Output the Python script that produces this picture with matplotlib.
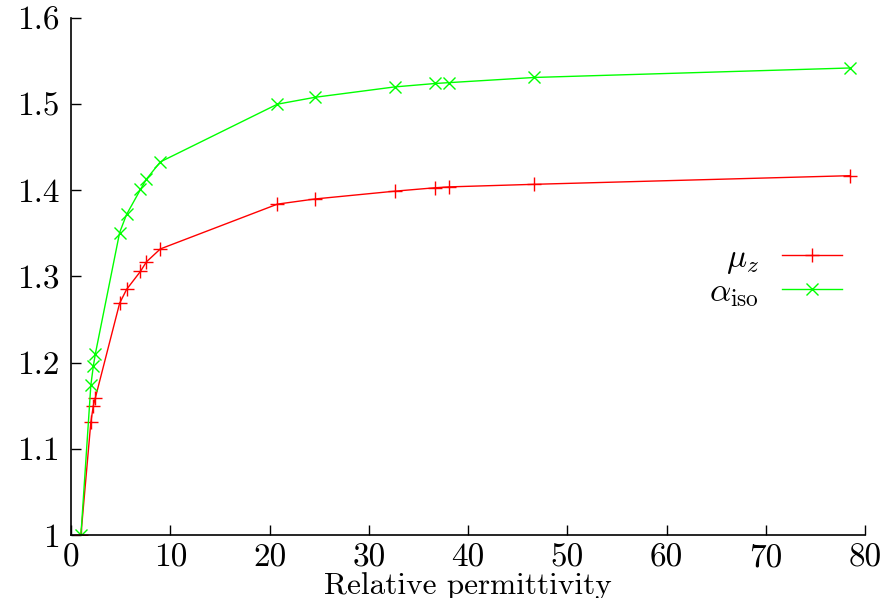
import matplotlib
matplotlib.use("Agg")
import matplotlib.pyplot as plt
from matplotlib.ticker import FuncFormatter

# --- Data ---
permittivity = [1.0, 2.0, 2.25, 2.45, 4.9, 5.6, 7.0, 7.6, 9.0,
                20.8, 24.6, 32.6, 36.7, 38.1, 46.7, 78.5]
mu_z = [1.000, 1.131, 1.150, 1.159, 1.269, 1.285, 1.306, 1.317, 1.332,
        1.384, 1.390, 1.399, 1.403, 1.404, 1.407, 1.417]
alpha_iso = [1.000, 1.174, 1.196, 1.210, 1.351, 1.372, 1.401, 1.413, 1.433,
             1.500, 1.508, 1.520, 1.524, 1.525, 1.531, 1.542]

# --- Style ---
plt.rcParams["font.family"] = "serif"
plt.rcParams["font.serif"] = ["cmr10"]
plt.rcParams["mathtext.fontset"] = "cm"
plt.rcParams["axes.unicode_minus"] = False

fig = plt.figure(figsize=(8.84, 5.98), dpi=100)
ax = fig.add_axes([71 / 884, 63 / 598, 794 / 884, 517 / 598])

ax.plot(permittivity, mu_z, color="#ff0000", lw=1, marker="+", ms=10, mew=1,
        label=r"$\mu_z$")
ax.plot(permittivity, alpha_iso, color="#00ff00", lw=1, marker="x", ms=9, mew=1,
        label=r"$\alpha_{\rm iso}$")

ax.set_xlim(0, 80)
ax.set_ylim(1, 1.6)
ax.set_xticks(range(0, 81, 10))
ax.set_yticks([1, 1.1, 1.2, 1.3, 1.4, 1.5, 1.6])
ax.yaxis.set_major_formatter(FuncFormatter(lambda v, p: "%g" % v))
ax.tick_params(direction="in", length=7, width=1, labelsize=24, pad=6)
ax.tick_params(axis="y", pad=8)
ax.spines["top"].set_visible(False)
ax.spines["right"].set_visible(False)
for s in ("left", "bottom"):
    ax.spines[s].set_linewidth(1.2)
ax.set_xlabel("Relative permittivity", fontsize=22.5, labelpad=0)

ax.legend(loc="center right", bbox_to_anchor=((842 - 71) / 794, (535 - 276) / 517),
          frameon=False, markerfirst=False, fontsize=24, handlelength=1.8,
          labelspacing=0.05, handletextpad=0.7, borderpad=0, borderaxespad=0)

fig.savefig("out.png", dpi=100)
